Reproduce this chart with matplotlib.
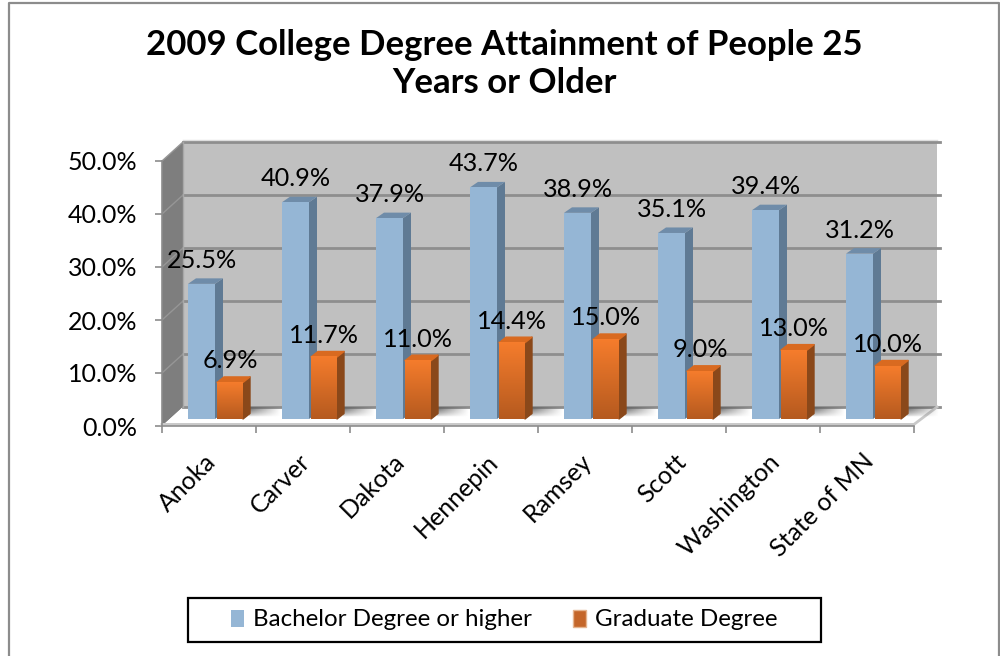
#!/usr/bin/env python3
"""Bar chart of 2009 college degree attainment, drawn with a fake 3D look."""

import numpy as np
import matplotlib
matplotlib.use("Agg")
import matplotlib.pyplot as plt
from matplotlib.colors import to_rgb
from matplotlib.patches import Patch, Polygon, Rectangle

categories = ["Anoka", "Carver", "Dakota", "Hennepin", "Ramsey", "Scott",
              "Washington", "State of MN"]
bachelor = [25.5, 40.9, 37.9, 43.7, 38.9, 35.1, 39.4, 31.2]
graduate = [6.9, 11.7, 11.0, 14.4, 15.0, 9.0, 13.0, 10.0]
y_ticks = [0, 10, 20, 30, 40, 50]
series_names = ["Bachelor Degree or higher", "Graduate Degree"]
title = "2009 College Degree Attainment of People 25\nYears or Older"

plt.rcParams["font.family"] = ["Lato", "DejaVu Sans"]

W, H = 1000, 656
fig = plt.figure(figsize=(W / 100, H / 100), dpi=100)
fig.patch.set_facecolor("white")

# outer frame, the bottom edge is cut off in the original
fig.add_artist(plt.Line2D([8.5 / W, 8.5 / W, 998.5 / W, 998.5 / W],
                          [0, 1 - 2.5 / H, 1 - 2.5 / H, 0],
                          color="#8c8c8c", lw=1.6))

# axes is the front plane of the box
ax = fig.add_axes([162 / W, 1 - 426 / H, 752 / W, 265 / H])
ax.patch.set_visible(False)

XU = 94.0  # px per category
YU = 5.3   # px per percent
WALL_X = 21 / XU
WALL_Y = 19 / YU
LIFT = 7 / YU
DEPTH_X = 8 / XU
DEPTH_Y = 5.5 / YU


def gradient(x0, x1, y0, y1, c_top, c_bottom, zorder):
    """Vertical colour gradient between two colours."""
    t = np.linspace(0, 1, 64)[:, None, None]
    img = (1 - t) * np.array(to_rgb(c_top)) + t * np.array(to_rgb(c_bottom))
    ax.imshow(img, extent=[x0, x1, y0, y1], aspect="auto", zorder=zorder,
              clip_on=False, interpolation="bilinear", origin="upper")


def poly(points, color, zorder, edge=False):
    ax.add_patch(Polygon(points, closed=True, facecolor=color,
                         edgecolor=color if edge else "none", lw=1.0,
                         joinstyle="round", zorder=zorder, clip_on=False))


def draw_bar(left, width, value, front, side, top, depth_x, zorder, edge=False):
    base = LIFT
    height = base + value
    right = left + width
    poly([(right, base), (right + depth_x, base + DEPTH_Y),
          (right + depth_x, height + DEPTH_Y), (right, height)], side, zorder, edge)
    poly([(left, height), (left + depth_x, height + DEPTH_Y),
          (right + depth_x, height + DEPTH_Y), (right, height)], top, zorder, edge)
    if isinstance(front, tuple):
        gradient(left, right, base, height, front[0], front[1], zorder + 0.5)
    else:
        ax.add_patch(Rectangle((left, base), width, value, facecolor=front,
                               edgecolor="none", zorder=zorder, clip_on=False))


n = len(categories)

# walls and floor
poly([(WALL_X, WALL_Y), (8 + 23 / XU, WALL_Y), (8 + 23 / XU, 50 + WALL_Y),
      (WALL_X, 50 + WALL_Y)], "#c0c0c0", 1)
poly([(0, 0), (WALL_X, WALL_Y), (WALL_X, 50 + WALL_Y), (0, 50)], "#7e7e7e", 1)
poly([(0, 0), (WALL_X, WALL_Y), (8 + 23 / XU, WALL_Y), (8, 0)], "white", 1)
ax.plot([WALL_X, 8 + 23 / XU], [50 + WALL_Y + 0.3] * 2, color="#dedede", lw=1,
        zorder=1, clip_on=False)

for v in y_ticks:
    ax.plot([WALL_X, 8 + 26 / XU], [v + WALL_Y] * 2, color="#8e8e8e", lw=2.0,
            zorder=2, clip_on=False)
    if v > 0:
        ax.plot([0, WALL_X], [v, v + WALL_Y], color="#969696", lw=1.0, zorder=2,
                clip_on=False)

# front edge of the floor and right edge
ax.plot([0, 8, 8 + 23 / XU], [0.3, 0.3, WALL_Y], color="#c9c9c9", lw=2,
        zorder=3, clip_on=False)
ax.plot([WALL_X, WALL_X], [WALL_Y, 50 + WALL_Y], color="#a8a8a8", lw=1,
        zorder=3, clip_on=False)

# soft shadows behind the orange bars
for i in range(n):
    gx = np.linspace(1, 0, 48)[None, :]
    gy = np.linspace(1, 0, 16)[:, None]
    rgba = np.zeros((16, 48, 4))
    rgba[..., :3] = 0.4
    rgba[..., 3] = gx * gy ** 0.7
    x0 = i + 0.93
    ax.imshow(rgba, extent=[x0, x0 + 0.34, WALL_Y, WALL_Y - 10 / YU], aspect="auto",
              zorder=3, clip_on=False, origin="lower", interpolation="bilinear")

# bars
blue_left = 26 / XU
blue_width = 27 / XU
orange_left = 55 / XU
orange_width = 26 / XU
for i in range(n):
    draw_bar(i + blue_left, blue_width, bachelor[i], "#95b6d5", "#5f7a94",
             "#6f8ca9", DEPTH_X, 4)
    draw_bar(i + orange_left, orange_width, graduate[i], ("#f57c2c", "#b55a1f"),
             "#8a481a", "#d96a20", 7 / XU, 5, edge=True)

# value labels
for i in range(n):
    ax.annotate(f"{bachelor[i]:.1f}%", (i + blue_left + blue_width / 2, LIFT + bachelor[i]),
                xytext=(0, 17), textcoords="offset points", ha="center", va="center",
                fontsize=18.2, color="black", zorder=8, annotation_clip=False)
    ax.annotate(f"{graduate[i]:.1f}%", (i + orange_left + orange_width / 2, LIFT + graduate[i]),
                xytext=(0, 15.6), textcoords="offset points", ha="center", va="center",
                fontsize=18.2, color="black", zorder=8, annotation_clip=False)

ax.set_xlim(0, n)
ax.set_ylim(0, 50)

# axes, ticks and labels
for s in ("top", "right"):
    ax.spines[s].set_visible(False)
for s in ("left", "bottom"):
    ax.spines[s].set_color("#8c8c8c")
    ax.spines[s].set_linewidth(1.2)
    ax.spines[s].set_zorder(6)

ax.set_yticks(y_ticks)
ax.set_yticklabels([f"{v:.1f}%" for v in y_ticks], fontsize=18)
ax.tick_params(axis="y", length=5, width=1.2, color="#8c8c8c", pad=13)

ax.set_xticks(range(n + 1))
ax.set_xticklabels([])
ax.tick_params(axis="x", which="major", length=5, width=1.2, color="#8c8c8c")
ax.set_xticks(np.arange(n) + 0.45, minor=True)
ax.set_xticklabels(categories, minor=True, rotation=45, ha="right", va="top",
                   rotation_mode="anchor", fontsize=18)
ax.tick_params(axis="x", which="minor", length=0, pad=17)

# title
fig.text(504 / W, 1 - 64 / H, title, ha="center", va="center", fontsize=25,
         fontweight="bold", color="black", linespacing=1.22)

# legend, frame drawn separately because it is much wider than its content
fig.add_artist(Rectangle((187.5 / W, 1 - 642 / H), 633 / W, 44 / H, facecolor="white",
                         edgecolor="black", lw=1.6, transform=fig.transFigure))
handles = [Patch(facecolor="#95b6d5", edgecolor="none"),
           Patch(facecolor="#c4662a", edgecolor="#e5b48f")]
leg = fig.legend(handles, series_names, loc="center",
                 bbox_to_anchor=(504 / W, 1 - 620 / H), ncol=2, fontsize=17.4,
                 frameon=False, handlelength=0.56, handleheight=0.7, handletextpad=0.35,
                 columnspacing=1.7, borderpad=0, borderaxespad=0)

fig.savefig("out.png", dpi=100)
